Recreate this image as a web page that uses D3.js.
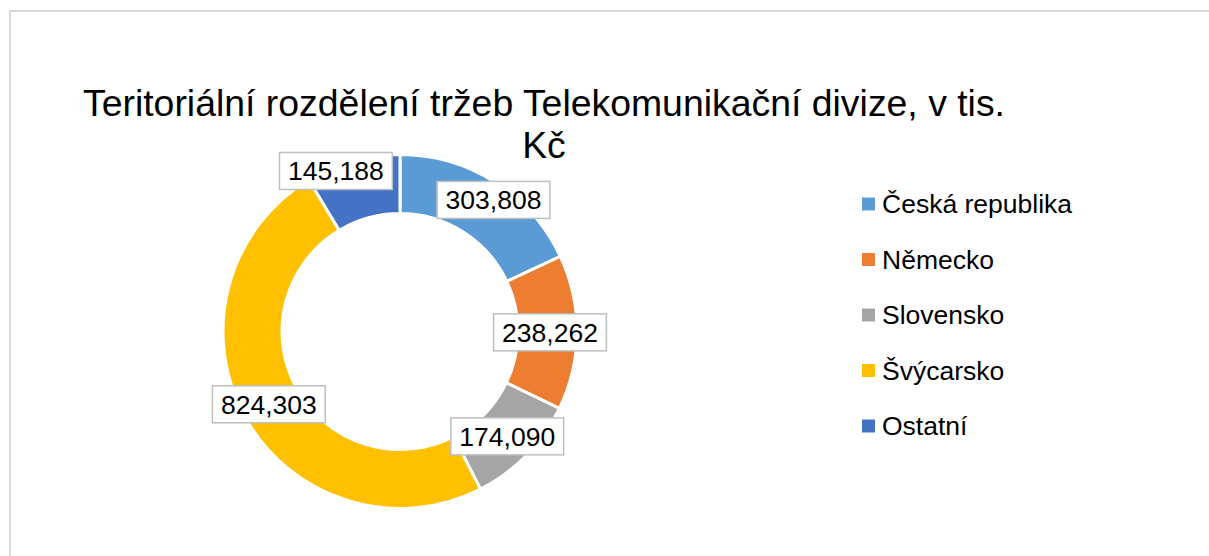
<!DOCTYPE html>
<html>
<head>
<meta charset="utf-8">
<script src="https://cdn.jsdelivr.net/npm/d3@7"></script>
<style>
  html, body { margin: 0; padding: 0; background: #fff; }
  svg { display: block; font-family: "Liberation Sans", Arial, sans-serif; }
</style>
</head>
<body>
<svg id="chart" width="1209" height="556"></svg>
<script>
// data
const categories = ['Česká republika', 'Německo', 'Slovensko', 'Švýcarsko', 'Ostatní']
const values = [303808, 238262, 174090, 824303, 145188]
const colors = ['#5B9BD5', '#ED7D31', '#A5A5A5', '#FFC000', '#4472C4']
const titleLines = ['Teritoriální rozdělení tržeb Telekomunikační divize, v tis.', 'Kč']

const W = 1209
const H = 556
const cx = 400
const cy = 331.5
const outerR = 177
const innerR = 118
const labelR = 150

const svg = d3.select('#chart')

// chart frame (only top and left edges are inside the view)
svg.append('path')
  .attr('d', `M10,${H} L10,11 L${W},11`)
  .attr('fill', 'none')
  .attr('stroke', '#d9d9d9')
  .attr('stroke-width', 2)

// title
svg.append('text')
  .attr('text-anchor', 'middle')
  .attr('font-size', 37.4)
  .attr('fill', '#000')
  .selectAll('tspan')
  .data(titleLines)
  .join('tspan')
  .attr('x', 544)
  .attr('y', (d, i) => 116 + i * 42)
  .text(d => d)

const color = d3.scaleOrdinal().domain(categories).range(colors)

const pie = d3.pie().sort(null).value((d, i) => values[i])
const arcs = pie(categories)

const arc = d3.arc().innerRadius(innerR).outerRadius(outerR)
const labelArc = d3.arc().innerRadius(labelR).outerRadius(labelR)

const g = svg.append('g').attr('transform', `translate(${cx},${cy})`)

g.selectAll('path.slice')
  .data(arcs)
  .join('path')
  .attr('class', 'slice')
  .attr('d', arc)
  .attr('fill', d => color(d.data))
  .attr('stroke', '#fff')
  .attr('stroke-width', 3)

// Excel pushes the two top labels apart a little
const labelNudge = {'Česká republika': [13, -5], 'Ostatní': [-24, -16]}

const fmt = d3.format(',')
const labels = g.selectAll('g.label')
  .data(arcs)
  .join('g')
  .attr('class', 'label')
  .attr('transform', d => {
    const c = labelArc.centroid(d)
    const n = labelNudge[d.data] || [0, 0]
    return `translate(${c[0] + n[0]},${c[1] + n[1]})`
  })

labels.each(function (d) {
  const sel = d3.select(this)
  const rect = sel.append('rect')
  const t = sel.append('text')
    .attr('text-anchor', 'middle')
    .attr('dy', '0.35em')
    .attr('font-size', 26.5)
    .attr('fill', '#000')
    .text(fmt(d.value))
  const w = t.node().getComputedTextLength() + 17
  const h = 37
  rect.attr('x', -w / 2).attr('y', -h / 2)
    .attr('width', w).attr('height', h)
    .attr('fill', '#fff')
    .attr('stroke', '#bfbfbf')
    .attr('stroke-width', 1.5)
})

// legend
const legend = svg.append('g').attr('transform', 'translate(862,204)')
const rows = legend.selectAll('g')
  .data(categories)
  .join('g')
  .attr('transform', (d, i) => `translate(0,${i * 55.5})`)

rows.append('rect')
  .attr('x', 0).attr('y', -6.5)
  .attr('width', 13).attr('height', 13)
  .attr('fill', d => color(d))

rows.append('text')
  .attr('x', 20)
  .attr('dy', '0.35em')
  .attr('font-size', 26.5)
  .attr('fill', '#000')
  .text(d => d)
</script>
</body>
</html>
